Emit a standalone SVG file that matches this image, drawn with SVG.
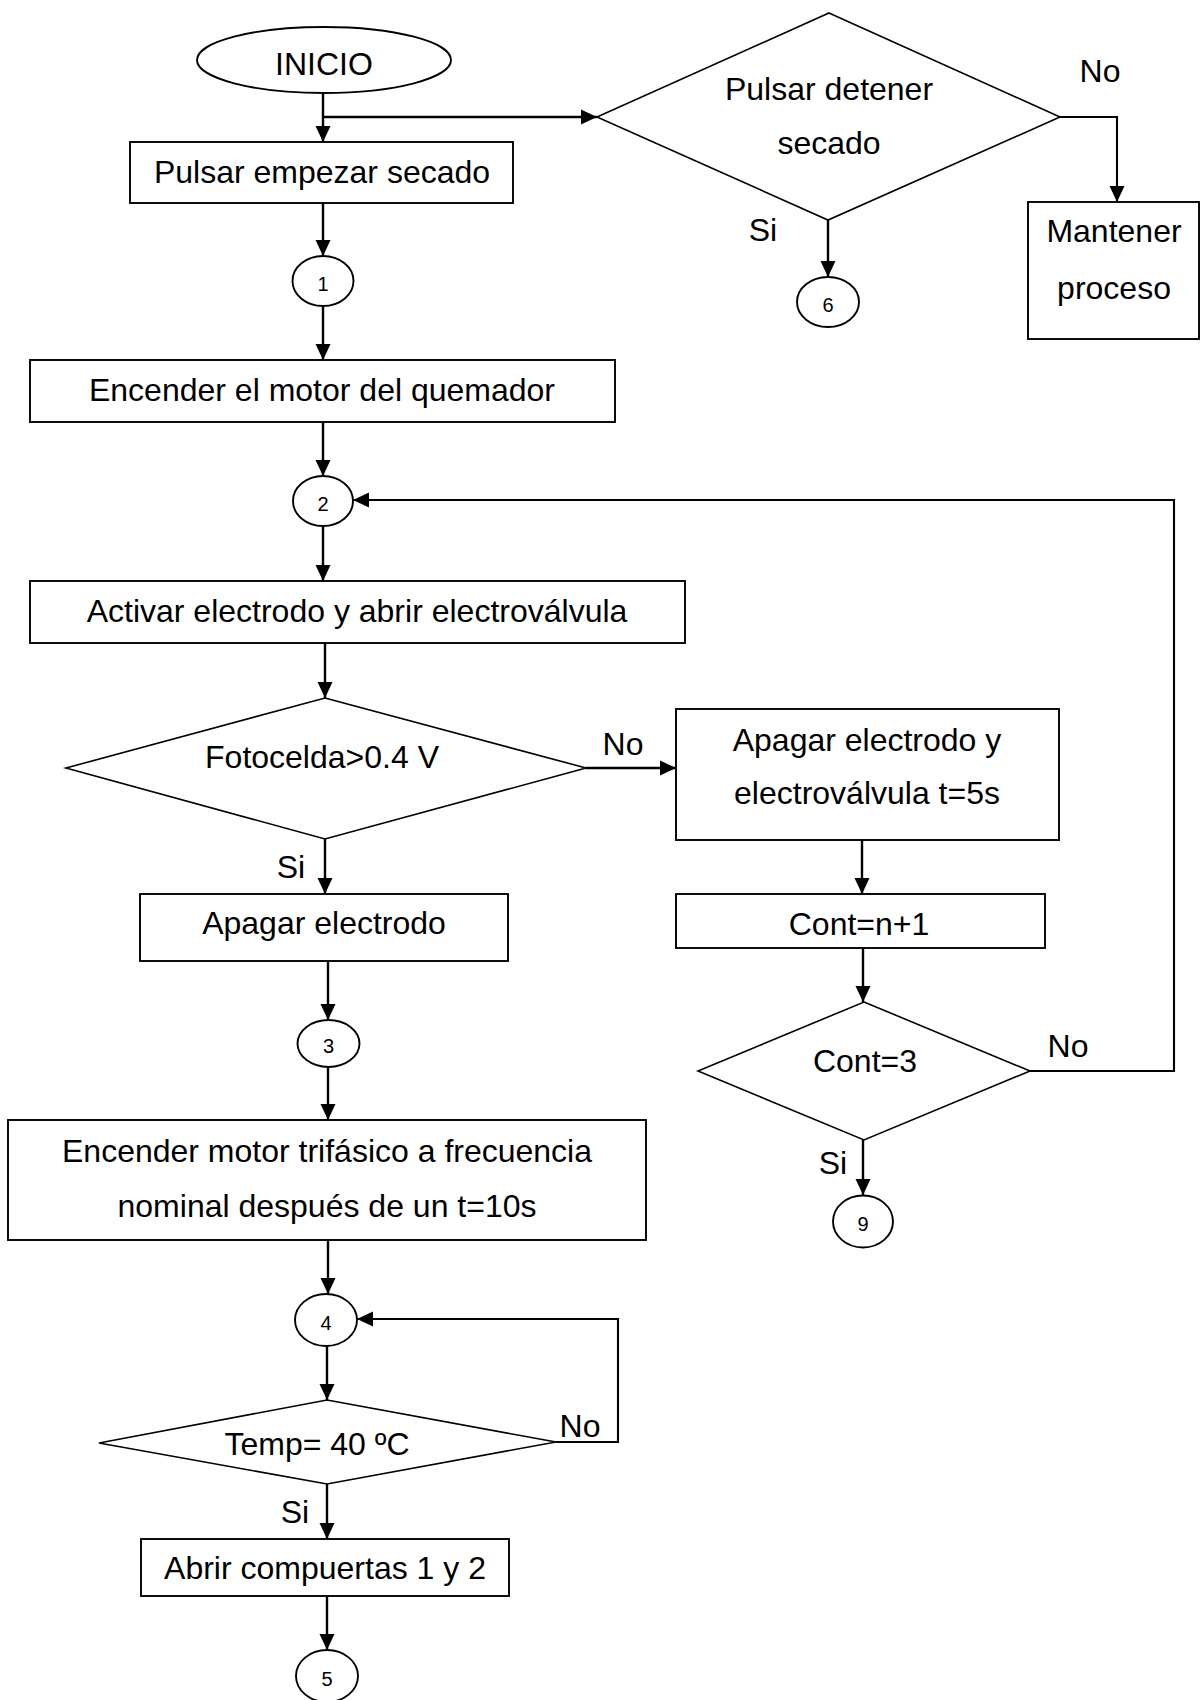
<svg xmlns="http://www.w3.org/2000/svg" width="1200" height="1700" viewBox="0 0 1200 1700">
  <style>
    .shape { fill: #ffffff; stroke: #000000; stroke-width: 1.9; }
    .dec { fill: #ffffff; stroke: #000000; stroke-width: 1.6; }
    .link { fill: none; stroke: #000000; stroke-width: 2.4; }
    .loop { fill: none; stroke: #000000; stroke-width: 2.1; }
    .t { font-family: "Liberation Sans", Arial, sans-serif; font-size: 32px; fill: #000000; text-anchor: middle; }
    .lbl { font-family: "Liberation Sans", Arial, sans-serif; font-size: 32px; fill: #000000; text-anchor: middle; }
    .num { font-family: "Liberation Sans", Arial, sans-serif; font-size: 20px; fill: #000000; text-anchor: middle; }
  </style>
  <defs>
    <marker id="arrow" markerUnits="userSpaceOnUse" markerWidth="18" markerHeight="18" viewBox="0 0 18 18" refX="17" refY="9" orient="auto">
      <path d="M1,1.5 L17,9 L1,16.5 Z" fill="#000000"/>
    </marker>
  </defs>
  <rect width="1200" height="1700" fill="#ffffff"/>

  <!-- connectors -->
  <g id="connectors">
    <line class="link" x1="323" y1="93" x2="323" y2="142" marker-end="url(#arrow)"/>
    <line class="link" x1="323" y1="117" x2="597" y2="117" marker-end="url(#arrow)"/>
    <line class="link" x1="323" y1="203" x2="323" y2="256" marker-end="url(#arrow)"/>
    <line class="link" x1="323" y1="306" x2="323" y2="360" marker-end="url(#arrow)"/>
    <line class="link" x1="323" y1="422" x2="323" y2="476" marker-end="url(#arrow)"/>
    <line class="link" x1="323" y1="526" x2="323" y2="581" marker-end="url(#arrow)"/>
    <line class="link" x1="325" y1="643" x2="325" y2="698" marker-end="url(#arrow)"/>
    <line class="link" x1="325" y1="839" x2="325" y2="894" marker-end="url(#arrow)"/>
    <line class="link" x1="586" y1="768" x2="676" y2="768" marker-end="url(#arrow)"/>
    <line class="link" x1="862" y1="840" x2="862" y2="894" marker-end="url(#arrow)"/>
    <line class="link" x1="863" y1="948" x2="863" y2="1002" marker-end="url(#arrow)"/>
    <line class="link" x1="863" y1="1140" x2="863" y2="1195" marker-end="url(#arrow)"/>
    <polyline class="loop" points="1030,1071 1174,1071 1174,500 353,500" marker-end="url(#arrow)"/>
    <line class="link" x1="328" y1="961" x2="328" y2="1020" marker-end="url(#arrow)"/>
    <line class="link" x1="328" y1="1067" x2="328" y2="1120" marker-end="url(#arrow)"/>
    <line class="link" x1="328" y1="1240" x2="328" y2="1294" marker-end="url(#arrow)"/>
    <line class="link" x1="327" y1="1346" x2="327" y2="1400" marker-end="url(#arrow)"/>
    <polyline class="loop" points="556,1442 618,1442 618,1319 357,1319" marker-end="url(#arrow)"/>
    <line class="link" x1="327" y1="1484" x2="327" y2="1539" marker-end="url(#arrow)"/>
    <line class="link" x1="327" y1="1596" x2="327" y2="1650" marker-end="url(#arrow)"/>
    <line class="link" x1="828" y1="220" x2="828" y2="277" marker-end="url(#arrow)"/>
    <polyline class="loop" points="1060,117 1117,117 1117,202" marker-end="url(#arrow)"/>
    <!-- branch labels -->
    <text class="lbl" x="1100" y="82">No</text>
    <text class="lbl" x="763" y="241">Si</text>
    <text class="lbl" x="623" y="755">No</text>
    <text class="lbl" x="291" y="878">Si</text>
    <text class="lbl" x="1068" y="1057">No</text>
    <text class="lbl" x="833" y="1174">Si</text>
    <text class="lbl" x="580" y="1437">No</text>
    <text class="lbl" x="295" y="1523">Si</text>
  </g>

  <g id="inicio">
    <ellipse class="shape" cx="324" cy="60" rx="127" ry="33"/>
    <text class="t" x="324" y="75">INICIO</text>
  </g>

  <g id="pulsar-empezar">
    <rect class="shape" x="130" y="142" width="383" height="61"/>
    <text class="t" x="322" y="183">Pulsar empezar secado</text>
  </g>

  <g id="pulsar-detener">
    <polygon class="dec" points="829,13 1060,117 828,220 597,117"/>
    <text class="t" x="829" y="100">Pulsar detener</text>
    <text class="t" x="829" y="154">secado</text>
  </g>

  <g id="mantener">
    <rect class="shape" x="1028" y="202" width="171" height="137"/>
    <text class="t" x="1114" y="242">Mantener</text>
    <text class="t" x="1114" y="299">proceso</text>
  </g>

  <g id="conector-6">
    <ellipse class="shape" cx="828" cy="302" rx="31" ry="25"/>
    <text class="num" x="828" y="312">6</text>
  </g>

  <g id="conector-1">
    <ellipse class="shape" cx="323" cy="281" rx="30.5" ry="25"/>
    <text class="num" x="323" y="291">1</text>
  </g>

  <g id="motor-quemador">
    <rect class="shape" x="30" y="360" width="585" height="62"/>
    <text class="t" x="322" y="401">Encender el motor del quemador</text>
  </g>

  <g id="conector-2">
    <ellipse class="shape" cx="323" cy="501" rx="30" ry="25"/>
    <text class="num" x="323" y="511">2</text>
  </g>

  <g id="activar-electrodo">
    <rect class="shape" x="30" y="581" width="655" height="62"/>
    <text class="t" x="357" y="622">Activar electrodo y abrir electroválvula</text>
  </g>

  <g id="fotocelda">
    <polygon class="dec" points="325,698 586,768 325,839 66,768"/>
    <text class="t" x="322" y="768">Fotocelda&gt;0.4 V</text>
  </g>

  <g id="apagar-electrodo-valvula">
    <rect class="shape" x="676" y="709" width="383" height="131"/>
    <text class="t" x="867" y="751">Apagar electrodo y</text>
    <text class="t" x="867" y="804">electroválvula t=5s</text>
  </g>

  <g id="contador">
    <rect class="shape" x="676" y="894" width="369" height="54"/>
    <text class="t" x="859" y="935">Cont=n+1</text>
  </g>

  <g id="cont-3">
    <polygon class="dec" points="864,1002 1030,1071 864,1140 698,1071"/>
    <text class="t" x="865" y="1072">Cont=3</text>
  </g>

  <g id="conector-9">
    <ellipse class="shape" cx="863" cy="1221.5" rx="30" ry="26"/>
    <text class="num" x="863" y="1231">9</text>
  </g>

  <g id="apagar-electrodo">
    <rect class="shape" x="140" y="894" width="368" height="67"/>
    <text class="t" x="324" y="934">Apagar electrodo</text>
  </g>

  <g id="conector-3">
    <ellipse class="shape" cx="328.5" cy="1043.5" rx="31" ry="23.5"/>
    <text class="num" x="328.5" y="1053">3</text>
  </g>

  <g id="motor-trifasico">
    <rect class="shape" x="8" y="1120" width="638" height="120"/>
    <text class="t" x="327" y="1162">Encender motor trifásico a frecuencia</text>
    <text class="t" x="327" y="1217">nominal después de un t=10s</text>
  </g>

  <g id="conector-4">
    <ellipse class="shape" cx="326" cy="1320" rx="31" ry="26"/>
    <text class="num" x="326" y="1330">4</text>
  </g>

  <g id="temperatura">
    <polygon class="dec" points="327,1400 556,1442 327,1484 99,1443"/>
    <text class="t" x="317" y="1455">Temp= 40 ºC</text>
  </g>

  <g id="abrir-compuertas">
    <rect class="shape" x="141" y="1539" width="368" height="57"/>
    <text class="t" x="325" y="1579">Abrir compuertas 1 y 2</text>
  </g>

  <g id="conector-5">
    <ellipse class="shape" cx="327" cy="1676" rx="31" ry="26"/>
    <text class="num" x="327" y="1686">5</text>
  </g>
</svg>
